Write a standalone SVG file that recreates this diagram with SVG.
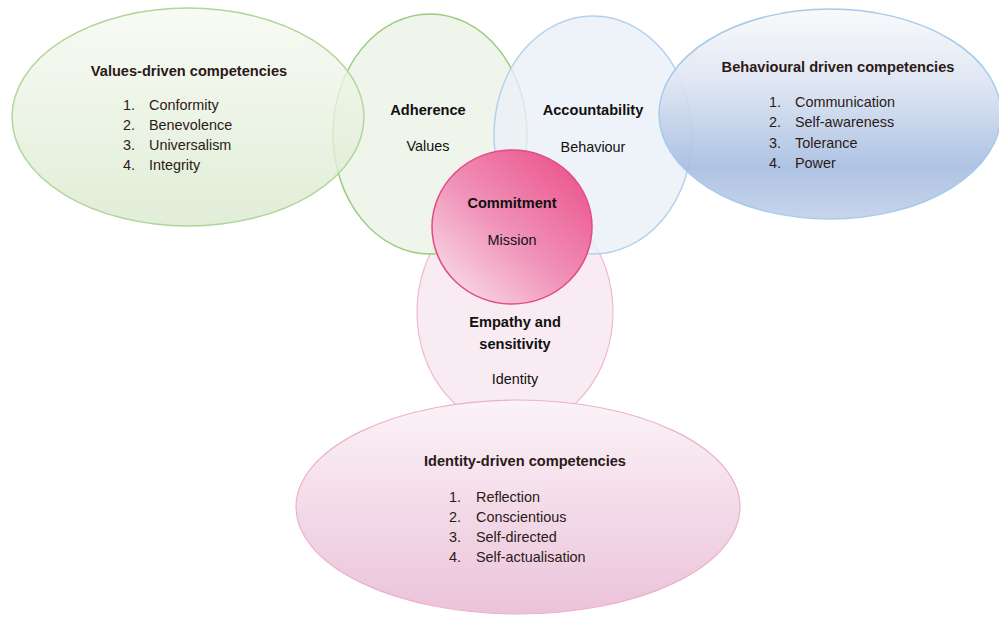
<svg xmlns="http://www.w3.org/2000/svg" width="999" height="617" viewBox="0 0 999 617">
<defs>
<linearGradient id="gVal" x1="0" y1="0" x2="0" y2="1">
<stop offset="0" stop-color="#f6faf2"/><stop offset="1" stop-color="#d9e9cd"/>
</linearGradient>
<linearGradient id="gBeh" x1="0" y1="0" x2="0" y2="1">
<stop offset="0" stop-color="#f8f9fb"/><stop offset="0.35" stop-color="#dde5f2"/><stop offset="0.75" stop-color="#a8bee1"/><stop offset="1" stop-color="#c2d1ea"/>
</linearGradient>
<linearGradient id="gCom" x1="0.1" y1="0.95" x2="0.85" y2="0.15">
<stop offset="0" stop-color="#f9dde9"/><stop offset="0.5" stop-color="#f093b8"/><stop offset="1" stop-color="#ec5d92"/>
</linearGradient>
<linearGradient id="gIde" x1="0" y1="0" x2="0" y2="1">
<stop offset="0" stop-color="#fbf3f7"/><stop offset="1" stop-color="#ebc3d9"/>
</linearGradient>
<style>
.h{font-family:"Liberation Sans",Arial,sans-serif;font-weight:bold;font-size:14.6px;fill:#2b1a18}
.t{font-family:"Liberation Sans",Arial,sans-serif;font-size:14.4px;fill:#2b1a18}
.ch{font-family:"Liberation Sans",Arial,sans-serif;font-weight:bold;font-size:14.6px;fill:#111}
.ct{font-family:"Liberation Sans",Arial,sans-serif;font-size:14.4px;fill:#111}
.c{text-anchor:middle}
</style>
</defs>

<g id="empathy">
<ellipse cx="515" cy="312" rx="98" ry="116" fill="#f9ebf2" stroke="#efb9d0" stroke-width="1.2"/>
</g>
<g id="adherence">
<ellipse cx="430" cy="134" rx="97" ry="120" fill="#edf4e8" fill-opacity="0.9" stroke="#9bcb7c" stroke-width="1.5"/>
</g>
<g id="accountability">
<ellipse cx="593" cy="135" rx="99" ry="119" fill="#eaf0f8" fill-opacity="0.8" stroke="#b5d2ec" stroke-width="1.5"/>
</g>
<g id="values-driven">
<ellipse cx="188" cy="117" rx="176" ry="109" fill="url(#gVal)" fill-opacity="0.8" stroke="#b2d69a" stroke-width="1.5"/>
</g>
<g id="behavioural-driven">
<ellipse cx="830" cy="114" rx="171" ry="105" fill="url(#gBeh)" fill-opacity="0.92" stroke="#a6cbea" stroke-width="1.5"/>
</g>
<g id="commitment">
<ellipse cx="512" cy="227" rx="80" ry="77" fill="url(#gCom)" stroke="#e24c86" stroke-width="1.5"/>
</g>
<g id="identity-driven">
<ellipse cx="518" cy="507" rx="222" ry="107" fill="url(#gIde)" stroke="#ecb0cd" stroke-width="1.2"/>
</g>
<g id="connectors"></g>

<g id="values-text">
<text class="h c" x="189" y="76">Values-driven competencies</text>
<text class="t" x="123" y="110">1.</text><text class="t" x="149" y="110">Conformity</text>
<text class="t" x="123" y="130">2.</text><text class="t" x="149" y="130">Benevolence</text>
<text class="t" x="123" y="150">3.</text><text class="t" x="149" y="150">Universalism</text>
<text class="t" x="123" y="170">4.</text><text class="t" x="149" y="170">Integrity</text>
</g>
<g id="adherence-text">
<text class="ch c" x="428" y="115">Adherence</text>
<text class="ct c" x="428" y="151">Values</text>
</g>
<g id="accountability-text">
<text class="ch c" x="593" y="115">Accountability</text>
<text class="ct c" x="593" y="152">Behaviour</text>
</g>
<g id="behavioural-text">
<text class="h c" x="838" y="72">Behavioural driven competencies</text>
<text class="t" x="769" y="107">1.</text><text class="t" x="795" y="107">Communication</text>
<text class="t" x="769" y="127">2.</text><text class="t" x="795" y="127">Self-awareness</text>
<text class="t" x="769" y="148">3.</text><text class="t" x="795" y="148">Tolerance</text>
<text class="t" x="769" y="168">4.</text><text class="t" x="795" y="168">Power</text>
</g>
<g id="commitment-text">
<text class="ch c" x="512" y="208">Commitment</text>
<text class="ct c" x="512" y="245">Mission</text>
</g>
<g id="empathy-text">
<text class="ch c" x="515" y="327">Empathy and</text>
<text class="ch c" x="515" y="349">sensitivity</text>
<text class="ct c" x="515" y="384">Identity</text>
</g>
<g id="identity-text">
<text class="h c" x="525" y="466">Identity-driven competencies</text>
<text class="t" x="449" y="502">1.</text><text class="t" x="476" y="502">Reflection</text>
<text class="t" x="449" y="522">2.</text><text class="t" x="476" y="522">Conscientious</text>
<text class="t" x="449" y="542">3.</text><text class="t" x="476" y="542">Self-directed</text>
<text class="t" x="449" y="562">4.</text><text class="t" x="476" y="562">Self-actualisation</text>
</g>
</svg>
